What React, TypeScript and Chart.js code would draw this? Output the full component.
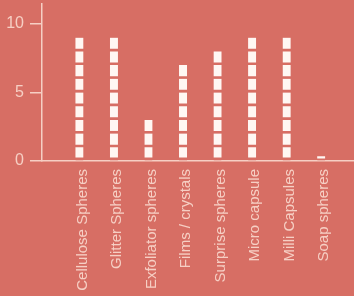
import React, { useEffect, useRef } from "react";
import { Chart, registerables } from "chart.js";

Chart.register(...registerables);

const categories = [
  "Cellulose Spheres",
  "Glitter Spheres",
  "Exfoliator spheres",
  "Films / crystals",
  "Surprise spheres",
  "Micro capsule",
  "Milli Capsules",
  "Soap spheres",
];
const values = [9, 9, 3, 7, 8, 9, 9, 0.35];
const yTicks = [0, 5, 10];

const BG = "#d76e64";
const FG = "#f6cfc4";
const BAR = "#fff7f3";
const UNITS = 10;

export default function App() {
  const ref = useRef<HTMLCanvasElement | null>(null);
  useEffect(() => {
    if (!ref.current) return;
    const datasets = Array.from({ length: UNITS }, (_, k) => ({
      data: values.map((v, i) => {
        const part = Math.min(1, Math.max(0, v - k));
        return { x: i, y: part > 0 ? part : null };
      }),
      backgroundColor: BAR,
      borderColor: BG,
      borderWidth: { top: 0, left: 0, right: 0, bottom: 3 },
      borderSkipped: false as const,
      barThickness: 8,
    }));
    const chart = new Chart(ref.current, {
      type: "bar",
      data: { datasets: datasets as any },
      options: {
        animation: false,
        responsive: true,
        maintainAspectRatio: false,
        layout: { padding: { top: 4, right: 0, left: 0, bottom: 0 } },
        plugins: { legend: { display: false }, tooltip: { enabled: false } },
        scales: {
          x: {
            type: "linear",
            offset: false,
            stacked: true,
            min: -1.083,
            max: 7.95,
            afterBuildTicks: (scale: any) => {
              scale.ticks = categories.map((_, i) => ({ value: i }));
            },
            afterFit: (scale: any) => {
              scale.height = 135;
              scale.paddingLeft = 0;
              scale.paddingRight = 0;
            },
            grid: { drawOnChartArea: false, drawTicks: false, color: FG },
            border: { display: true, color: FG, width: 1.5 },
            ticks: {
              autoSkip: false,
              minRotation: 90,
              maxRotation: 90,
              padding: 8,
              labelOffset: 3,
              color: FG,
              font: { family: "Liberation Sans", size: 15 },
              callback: (v: any) => categories[v as number] ?? "",
            },
          },
          y: {
            stacked: true,
            min: 0,
            max: 11.46,
            afterBuildTicks: (scale: any) => {
              scale.ticks = yTicks.map((v) => ({ value: v }));
            },
            afterFit: (scale: any) => {
              scale.width = 42;
              scale.paddingTop = 0;
              scale.paddingBottom = 0;
            },
            grid: { drawOnChartArea: false, drawTicks: true, tickLength: 12, color: FG, lineWidth: 1.5 },
            border: { display: true, color: FG, width: 1.5 },
            ticks: {
              padding: 6,
              color: FG,
              font: { family: "Liberation Sans", size: 16 },
            },
          },
        },
      },
    });
    return () => chart.destroy();
  }, []);
  return (
    <div
      style={{
        position: "fixed",
        left: 0,
        top: 0,
        width: 354,
        height: 296,
        background: BG,
      }}
    >
      <canvas ref={ref} />
    </div>
  );
}
